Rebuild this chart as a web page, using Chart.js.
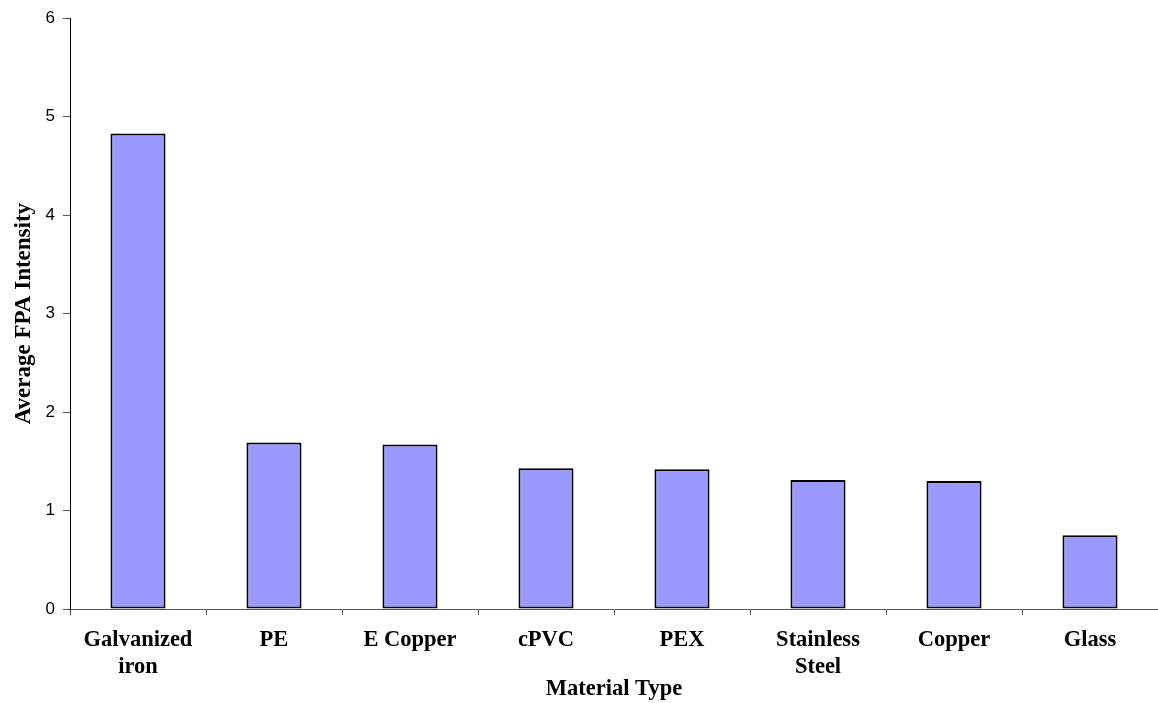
<!DOCTYPE html>
<html>
<head>
<meta charset="utf-8">
<script src="https://cdn.jsdelivr.net/npm/chart.js@4/dist/chart.umd.min.js"></script>
<style>
  html, body { margin: 0; padding: 0; background: #fff; }
  canvas { display: block; }
</style>
</head>
<body>
<canvas id="chart" width="1158" height="703"></canvas>
<script>
// Material categories (multi-line labels as arrays)
const materials = [
    ['Galvanized', 'iron'],
    'PE',
    'E Copper',
    'cPVC',
    'PEX',
    ['Stainless', 'Steel'],
    'Copper',
    'Glass'
];

// Average FPA intensity per material
const fpaIntensity = [4.83, 1.69, 1.67, 1.43, 1.42, 1.31, 1.30, 0.75];

const yTicks = [0, 1, 2, 3, 4, 5, 6];

const serifBold = { family: '"Liberation Serif", "Times New Roman", serif', weight: 'bold' };

const ctx = document.getElementById('chart').getContext('2d');
const chart = new Chart(ctx, {
    type: 'bar',
    data: {
        labels: materials,
        datasets: [{
            label: 'Average FPA Intensity',
            data: fpaIntensity,
            backgroundColor: '#9999ff',
            borderColor: '#000000',
            borderWidth: 2,
            borderSkipped: false,
            categoryPercentage: 1.0,
            barPercentage: 0.405
        }]
    },
    options: {
        responsive: false,
        animation: false,
        layout: {
            padding: { top: 15, right: 0, bottom: 0, left: 0 }
        },
        plugins: {
            legend: { display: false },
            tooltip: { enabled: false }
        },
        scales: {
            x: {
                offset: true,
                grid: {
                    offset: true,
                    drawOnChartArea: false,
                    drawTicks: true,
                    tickLength: 6,
                    color: '#555'
                },
                border: { color: '#555', width: 1 },
                ticks: {
                    color: '#000',
                    padding: 12,
                    maxRotation: 0,
                    autoSkip: false,
                    font: { ...serifBold, size: 22.5, lineHeight: 1.2 }
                },
                title: {
                    display: true,
                    text: 'Material Type',
                    color: '#000',
                    padding: { top: 1, bottom: 0 },
                    font: { ...serifBold, size: 22.5 }
                },
                afterFit: (scale) => { scale.height = 94; }
            },
            y: {
                min: 0,
                max: 6,
                afterBuildTicks: (scale) => {
                    scale.ticks = yTicks.map(v => ({ value: v }));
                },
                grid: {
                    drawOnChartArea: false,
                    drawTicks: true,
                    tickLength: 7,
                    color: '#555'
                },
                border: { color: '#000', width: 1 },
                ticks: {
                    color: '#000',
                    padding: 8,
                    font: { family: '"Liberation Sans", Arial, sans-serif', size: 17 }
                },
                title: {
                    display: true,
                    text: 'Average FPA Intensity',
                    color: '#000',
                    padding: { top: 10, bottom: 0 },
                    font: { ...serifBold, size: 23 }
                },
                afterFit: (scale) => { scale.width = 70; }
            }
        }
    }
});
</script>
</body>
</html>
